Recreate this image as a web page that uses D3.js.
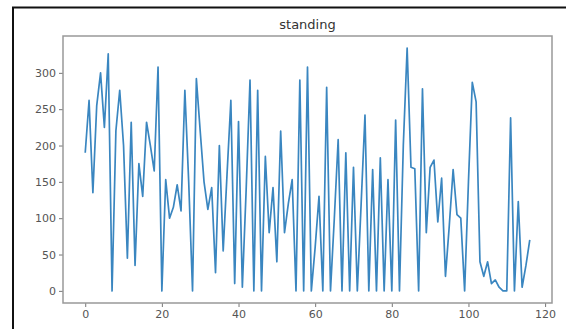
<!DOCTYPE html>
<html>
<head>
<meta charset="utf-8">
<script src="https://cdn.jsdelivr.net/npm/d3@7"></script>
<style>
  body { margin: 0; background: #fff; }
  svg { display: block; font-family: "DejaVu Sans", sans-serif; }
</style>
</head>
<body>
<div id="chart"></div>
<script>
const title = 'standing';

// one reading per sample, index 0..116
const standing = [
  190, 262, 135, 255, 300, 225, 326, 0, 220, 276,
  200, 45, 232, 35, 175, 130, 232, 200, 165, 308,
  0, 153, 100, 115, 146, 110, 276, 150, 0, 292,
  220, 150, 112, 142, 25, 200, 55, 160, 262, 10,
  233, 5, 140, 290, 0, 276, 0, 185, 80, 142,
  40, 220, 80, 120, 153, 0, 290, 0, 308, 0,
  60, 130, 0, 280, 0, 100, 208, 0, 190, 0,
  170, 0, 120, 242, 0, 167, 0, 183, 0, 153,
  0, 235, 0, 200, 334, 170, 168, 0, 278, 80,
  170, 180, 95, 155, 20, 90, 167, 105, 100, 0,
  150, 287, 260, 40, 20, 40, 10, 15, 5, 0,
  0, 238, 0, 123, 5, 35, 70
];

const xTicks = [0, 20, 40, 60, 80, 100, 120];
const yTicks = [0, 50, 100, 150, 200, 250, 300];

const width = 566;
const height = 329;
const plotL = 63, plotR = 552, plotT = 36, plotB = 303;

const svg = d3.select('#chart').append('svg')
  .attr('width', width)
  .attr('height', height);

// screenshot frame
svg.append('rect')
  .attr('x', 13).attr('y', 7.5)
  .attr('width', width + 20).attr('height', height + 20)
  .attr('fill', 'none')
  .attr('stroke', '#111')
  .attr('stroke-width', 2);

// matplotlib style 5% margins
const n = standing.length - 1;
const ymax = d3.max(standing);
const x = d3.scaleLinear()
  .domain([-0.05 * n, n * 1.05])
  .range([plotL, plotR]);
const y = d3.scaleLinear()
  .domain([-0.05 * ymax, ymax * 1.05])
  .range([plotB, plotT]);

const line = d3.line()
  .x((d, i) => x(i))
  .y(d => y(d));

svg.append('path')
  .datum(standing)
  .attr('d', line)
  .attr('fill', 'none')
  .attr('stroke', '#3a86c0')
  .attr('stroke-width', 1.7)
  .attr('stroke-linejoin', 'round');

const xAxis = svg.append('g')
  .attr('transform', `translate(0,${plotB})`)
  .call(d3.axisBottom(x).tickValues(xTicks).tickSize(4).tickPadding(3));

const yAxis = svg.append('g')
  .attr('transform', `translate(${plotL},0)`)
  .call(d3.axisLeft(y).tickValues(yTicks).tickSize(4).tickPadding(3));

[xAxis, yAxis].forEach(g => {
  g.select('.domain').remove();
  g.selectAll('line').attr('stroke', '#777');
  g.selectAll('text')
    .attr('fill', '#555')
    .style('font-size', '11px')
    .style('font-family', '"DejaVu Sans", sans-serif');
});

// axes box
svg.append('rect')
  .attr('x', plotL).attr('y', plotT)
  .attr('width', plotR - plotL).attr('height', plotB - plotT)
  .attr('fill', 'none')
  .attr('stroke', '#999')
  .attr('stroke-width', 1.5);

svg.append('text')
  .attr('x', (plotL + plotR) / 2)
  .attr('y', 29)
  .attr('text-anchor', 'middle')
  .attr('fill', '#333')
  .style('font-size', '13px')
  .text(title);
</script>
</body>
</html>
